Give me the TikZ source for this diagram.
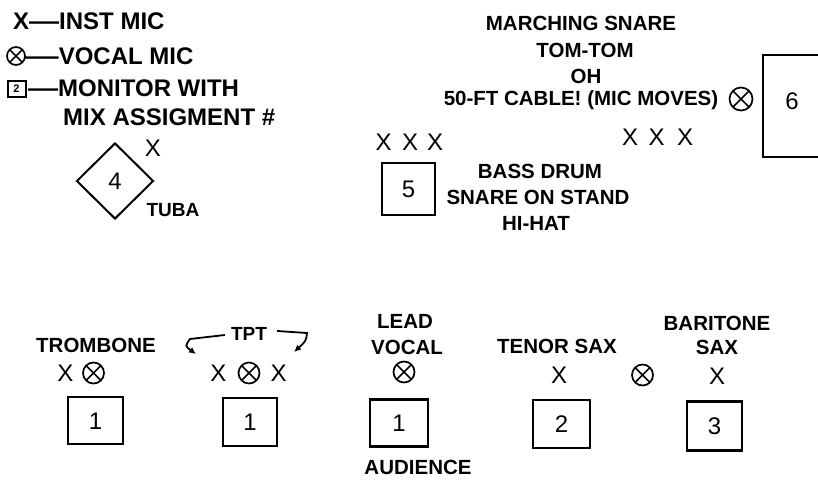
\documentclass[tikz,border=0pt]{standalone}
\usepackage{fontspec}
\usepackage{graphicx}
\setmainfont{Liberation Sans}
\usetikzlibrary{shapes.geometric,arrows.meta}
\newcommand{\ldash}[1]{\scalebox{#1}[1]{—}}
\begin{document}
\begin{tikzpicture}[x=1pt,y=-1pt,
  leg/.style={font=\fontsize{24}{26}\selectfont\bfseries, inner sep=0, anchor=west, text height=17.3pt, text depth=0pt},
  lbl/.style={font=\fontsize{20.5}{22}\selectfont\bfseries, inner sep=0, text height=14.8pt, text depth=0pt},
  imic/.style={font=\fontsize{24}{26}\selectfont, inner sep=0, text height=17.3pt, text depth=0pt},
  vmic/.style={circle, draw, line width=1.7pt, minimum size=#1, inner sep=0,
    path picture={\draw[line width=1.7pt] (path picture bounding box.south west) -- (path picture bounding box.north east)
      (path picture bounding box.north west) -- (path picture bounding box.south east);}},
  vmic/.default=21pt,
  mon/.style={draw, line width=2.3pt, minimum width=55pt, minimum height=47pt, inner sep=0,
    font=\fontsize{24}{26}\selectfont, text height=17.3pt, text depth=0pt},
  tptarrow/.style={line width=1.8pt, -{Latex[length=7pt,width=6.5pt]}}
]
\useasboundingbox (0,0) rectangle (818,479);
% legend
\node[leg] (l1) at (13,21) {X\ldash{1.25}INST MIC};
\node[vmic=18pt] (l2m) at (16,56) {};
\node[leg] (l2) at (25,56) {\ldash{1.4}VOCAL MIC};
\node[draw, line width=2pt, minimum width=18pt, minimum height=16pt, inner sep=0,
  font=\fontsize{11}{12}\selectfont\bfseries] (l3m) at (16.5,88.5) {2};
\node[leg] (l3) at (28,88) {\ldash{1.25}MONITOR WITH};
\node[leg] (l4) at (63,117) {MIX ASSIGMENT \#};
% tuba
\node[diamond, draw, line width=2pt, minimum width=77pt, minimum height=76pt, inner sep=0,
  font=\fontsize{24}{26}\selectfont, text height=17.3pt, text depth=0pt] (m4) at (115,181) {4};
\node[imic] (tubax) at (153,148) {X};
\node[lbl, font=\fontsize{19}{20}\selectfont\bfseries, text height=13.7pt] (tuba) at (173,210) {TUBA};
% drums left
\node[imic] (dl1) at (383.5,142) {X};
\node[imic] (dl2) at (410,142) {X};
\node[imic] (dl3) at (435,142) {X};
\node[mon, minimum width=53pt, minimum height=52pt] (m5) at (408.5,189) {5};
\node[lbl] (bd) at (540,171) {BASS DRUM};
\node[lbl] (sos) at (538,197) {SNARE ON STAND};
\node[lbl] (hh) at (536,223) {HI-HAT};
% drums right
\node[lbl] (ms) at (581,23) {MARCHING SNARE};
\node[lbl] (tt) at (585,50) {TOM-TOM};
\node[lbl] (oh) at (586,76) {OH};
\node[lbl] (cab) at (581,98) {50-FT CABLE! (MIC MOVES)};
\node[vmic=23pt] (cabm) at (741,99) {};
\node[imic] (dr1) at (630,137) {X};
\node[imic] (dr2) at (656.5,137) {X};
\node[imic] (dr3) at (685,137) {X};
\draw[line width=2.3pt] (818,55) -- (763,55) -- (763,157) -- (818,157);
\node[font=\fontsize{24}{26}\selectfont, inner sep=0, text height=17.3pt, text depth=0pt] (m6) at (792,101) {6};
% trombone
\node[lbl] (tbn) at (96,345) {TROMBONE};
\node[imic] (tbnx) at (65.5,373) {X};
\node[vmic] (tbnv) at (93.5,373) {};
\node[mon] (m1a) at (95.5,420.5) {1};
% trumpets
\node[lbl, font=\fontsize{19}{20}\selectfont\bfseries, text height=13.7pt] (tpt) at (249,334) {TPT};
\node[imic] (tptx1) at (218.5,373) {X};
\node[vmic] (tptv) at (249,373) {};
\node[imic] (tptx2) at (278.5,373) {X};
\node[mon, minimum width=54pt, minimum height=48pt] (m1b) at (250,422) {1};
\coordinate (tal) at (196,354);
\coordinate (tar) at (294,352);
\draw[tptarrow] (tpt.west) ++(-6,1) -- (190,339) .. controls (185,346) .. (tal);
\draw[tptarrow] (tpt.east) ++(10,-3) -- (307,333) .. controls (306,341) .. (tar);
% lead vocal
\node[lbl] (lead) at (405,321) {LEAD};
\node[lbl] (voc) at (407,347) {VOCAL};
\node[vmic] (leadv) at (404,372) {};
\node[mon, minimum width=58pt] (m1c) at (399,423) {1};
\node[lbl] (aud) at (418,467) {AUDIENCE};
% tenor sax
\node[lbl] (ts) at (557,346) {TENOR SAX};
\node[imic] (tsx) at (559,375) {X};
\node[mon, minimum width=57pt, minimum height=48pt] (m2) at (561.5,424) {2};
\node[vmic] (midv) at (642.5,375) {};
% baritone sax
\node[lbl] (bs1) at (717,323) {BARITONE};
\node[lbl] (bs2) at (717,347) {SAX};
\node[imic] (bsx) at (717,376) {X};
\node[mon, minimum height=49pt] (m3) at (714.5,426) {3};
\end{tikzpicture}
\end{document}
